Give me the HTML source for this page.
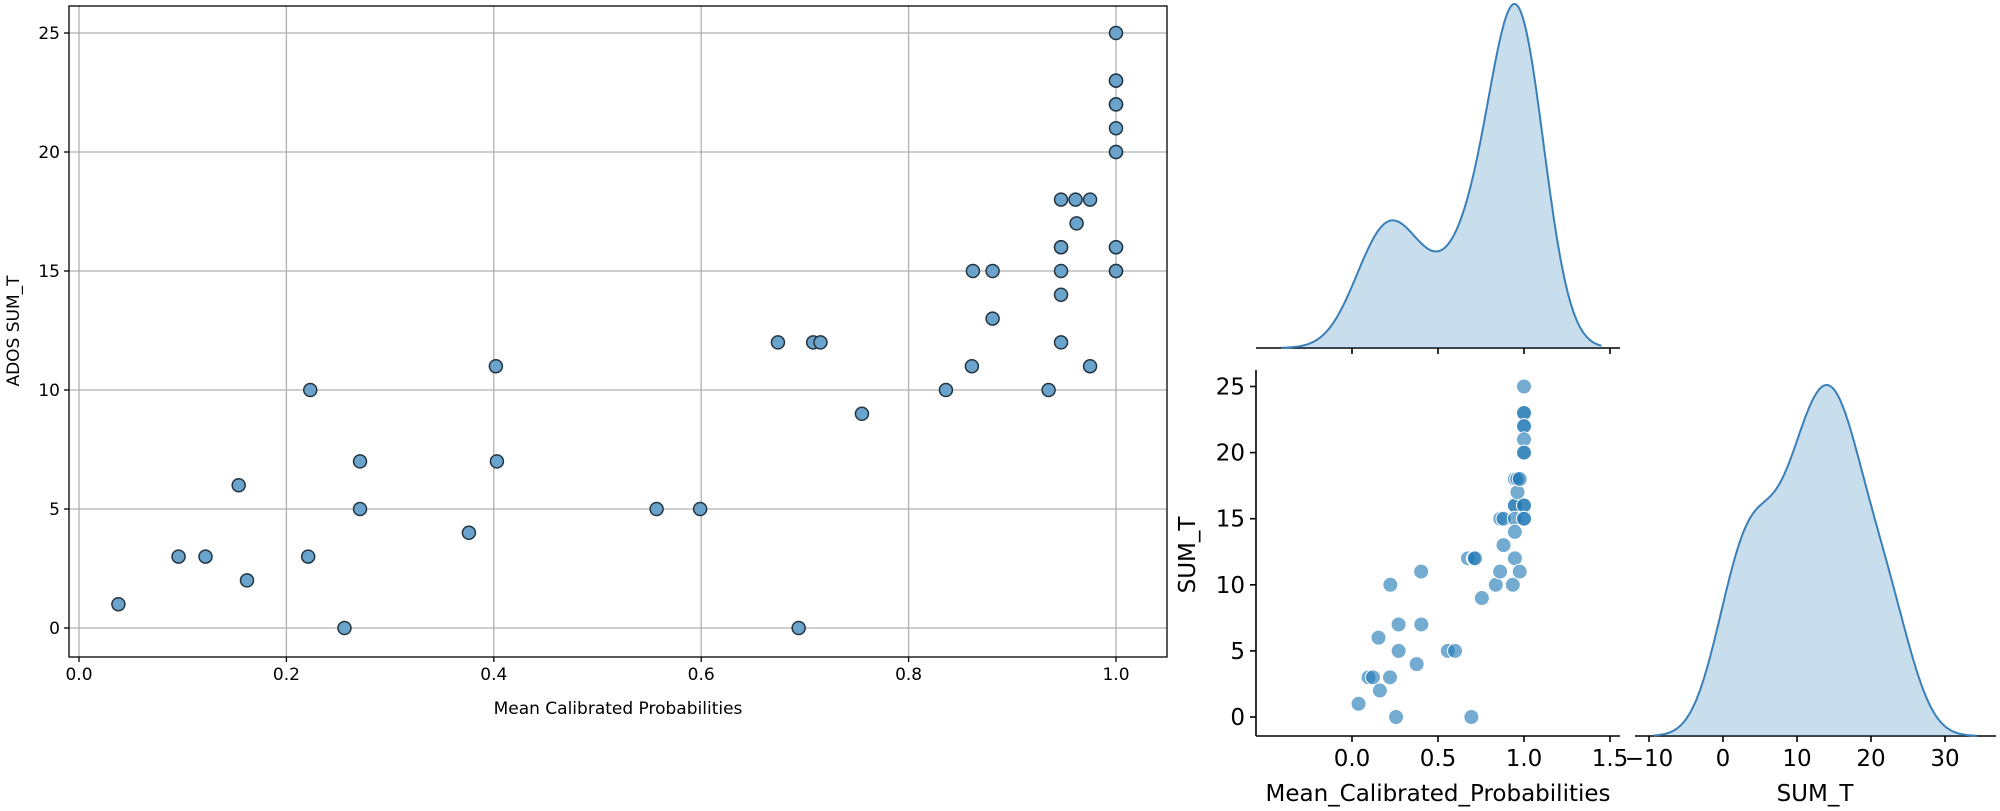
<!DOCTYPE html>
<html><head><meta charset="utf-8"><style>
html,body{margin:0;padding:0;background:#fff;}
svg{display:block;font-family:"DejaVu Sans","Liberation Sans",sans-serif;}
</style></head><body>
<svg id="s" width="2000" height="811" viewBox="0 0 2000 811" xmlns="http://www.w3.org/2000/svg">
<text x="618" y="714" font-size="17" text-anchor="middle">Mean Calibrated Probabilities</text>
<text transform="translate(19,331) rotate(-90)" font-size="17" text-anchor="middle">ADOS SUM_T</text>
<text x="1438" y="801" font-size="23" text-anchor="middle">Mean_Calibrated_Probabilities</text>
<text x="1815" y="801" font-size="23" text-anchor="middle">SUM_T</text>
<text transform="translate(1195,555) rotate(-90)" font-size="23" text-anchor="middle">SUM_T</text>
</svg>
<script>
var X=[0.038,0.096,0.122,0.154,0.162,0.221,0.223,0.256,0.271,0.271,0.376,0.402,0.403,0.557,0.599,0.674,0.694,0.708,0.715,0.755,0.836,0.861,0.862,0.881,0.881,0.935,0.947,0.947,0.947,0.947,0.947,0.947,0.961,0.962,0.975,0.975,1,1,1,1,1,1,1,1,1,1,1,1];
var Y=[1,3,3,6,2,3,10,0,7,5,4,11,7,5,5,12,0,12,12,9,10,11,15,15,13,10,18,16,16,15,14,12,18,17,18,11,25,23,23,22,22,21,20,20,16,16,15,15];
var s=document.getElementById('s'),h='';
function L(x1,y1,x2,y2,c,w){h+='<line x1="'+x1+'" y1="'+y1+'" x2="'+x2+'" y2="'+y2+'" stroke="'+c+'" stroke-width="'+w+'"/>';}
function T(x,y,t,fs,a){h+='<text x="'+x+'" y="'+y+'" font-size="'+fs+'" text-anchor="'+a+'">'+t+'</text>';}
var lx=function(v){return 79+v*1037;},ly=function(v){return 628-v*23.8;};
for(var i=0;i<=5;i++){var v=i*0.2,x=lx(v);L(x,6,x,657,'#b0b0b0',1.3);L(x,657,x,662,'#000',1.3);T(x,680,v.toFixed(1),17,'middle');}
for(var i=0;i<=5;i++){var y=ly(i*5);L(69,y,1167,y,'#b0b0b0',1.3);L(64,y,69,y,'#000',1.3);T(60,y+6,i*5,17,'end');}
for(var i=0;i<X.length;i++)h+='<circle cx="'+lx(X[i])+'" cy="'+ly(Y[i])+'" r="6.5" fill="#6aa3cb" stroke="#243440" stroke-width="1.5"/>';
h+='<rect x="69" y="6" width="1098" height="651" fill="none" stroke="#000" stroke-width="1.3"/>';
var px=function(v){return 1352+v*172;},py=function(v){return 717-v*13.22;};
for(var i=0;i<X.length;i++)h+='<circle cx="'+px(X[i])+'" cy="'+py(Y[i])+'" r="7.5" fill="#1f77b4" fill-opacity="0.62" stroke="#fff" stroke-width="1"/>';
L(1256,348,1620,348,'#000',1.6);
L(1256,370,1256,736,'#000',1.6);L(1256,736,1620,736,'#000',1.6);
for(var i=0;i<4;i++){var x=px(i*0.5);L(x,736,x,742,'#000',1.6);L(x,348,x,354,'#000',1.6);T(x,766,(i*0.5).toFixed(1),23,'middle');}
for(var i=0;i<=5;i++){var y=py(i*5);L(1250,y,1256,y,'#000',1.6);T(1245,y+8,i*5,23,'end');}
var rx=function(v){return 1723+v*7.4;};
L(1635,736,1996,736,'#000',1.6);
for(var i=-1;i<=3;i++){var x=rx(i*10);L(x,736,x,742,'#000',1.6);T(x,766,(i<0?'\u221210':i*10),23,'middle');}
function kde(d){var n=d.length,m=0;d.forEach(function(v){m+=v});m/=n;var sd=0;d.forEach(function(v){sd+=(v-m)*(v-m)});sd=Math.sqrt(sd/(n-1));var bw=sd*Math.pow(n,-0.2);
var lo=Math.min.apply(0,d)-3*bw,hi=Math.max.apply(0,d)+3*bw,pts=[],mx=0;for(var k=0;k<=300;k++){var t=lo+(hi-lo)*k/300,f=0;d.forEach(function(v){var z=(t-v)/bw;f+=Math.exp(-z*z/2)});pts.push([t,f]);if(f>mx)mx=f;}return {p:pts,m:mx};}
function draw(k,fx,base,top,clipx1,clipx2){var sc=(base-top)/k.m,pts=[];k.p.forEach(function(q){var x=fx(q[0]);if(x<clipx1||x>clipx2)return;pts.push([x,base-q[1]*sc]);});
var d='M'+pts.map(function(q){return q[0].toFixed(1)+','+q[1].toFixed(1)}).join(' L');
h+='<path d="'+d+' L'+pts[pts.length-1][0]+','+base+' L'+pts[0][0]+','+base+' Z" fill="#1f77b4" fill-opacity="0.24" stroke="none"/>';
h+='<path d="'+d+'" fill="none" stroke="#3a7fb8" stroke-width="2"/>';}
draw(kde(X),px,348,4,1256,1620);
draw(kde(Y),rx,736,385,1635,1996);
s.insertAdjacentHTML('beforeend',h);
</script>
</body></html>
